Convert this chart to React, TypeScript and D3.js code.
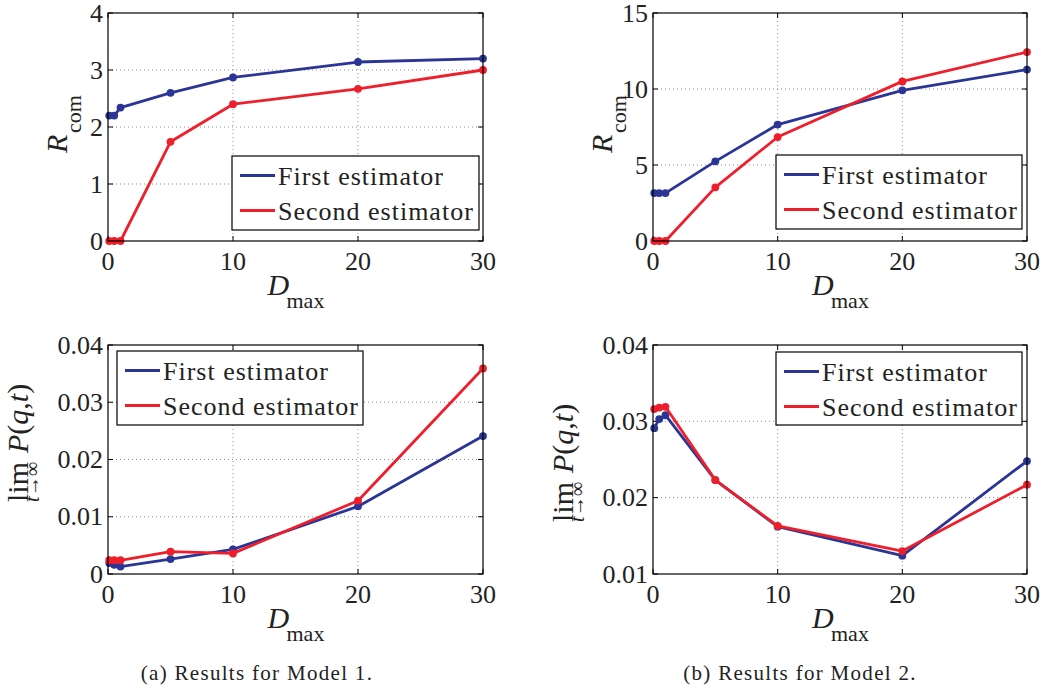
import React from "react";
import * as d3 from "d3";

const dmax = [0.1, 0.5, 1, 5, 10, 20, 30];
const xTicks = [0, 10, 20, 30];

const rcomM1First = [2.2, 2.2, 2.34, 2.6, 2.87, 3.14, 3.2];
const rcomM1Second = [0, 0, 0, 1.74, 2.4, 2.67, 3.0];
const rcomM2First = [3.15, 3.15, 3.15, 5.24, 7.66, 9.91, 11.28];
const rcomM2Second = [0, 0, 0, 3.53, 6.84, 10.5, 12.43];
const probM1First = [0.0019, 0.0016, 0.0013, 0.0026, 0.0043, 0.0118, 0.0241];
const probM1Second = [0.0024, 0.0024, 0.0024, 0.0039, 0.0036, 0.0128, 0.0359];
const probM2First = [0.0291, 0.0303, 0.0308, 0.0223, 0.0162, 0.0124, 0.0248];
const probM2Second = [0.0316, 0.0318, 0.0319, 0.0223, 0.0163, 0.013, 0.0217];

const yTicksM1R = [0, 1, 2, 3, 4];
const yTicksM2R = [0, 5, 10, 15];
const yTicksM1P = [0, 0.01, 0.02, 0.03, 0.04];
const yTicksM2P = [0.01, 0.02, 0.03, 0.04];
const yTickLabelsM1P = ["0", "0.01", "0.02", "0.03", "0.04"];
const yTickLabelsM2P = ["0.01", "0.02", "0.03", "0.04"];

const seriesNames = ["First estimator", "Second estimator"];
const captions = ["(a) Results for Model 1.", "(b) Results for Model 2."];

const BLUE = "#2b3595";
const RED = "#ee1f2b";
const F = { fontFamily: "Liberation Serif" };

type PanelProps = {
  x0: number; x1: number; y0: number; y1: number;
  yDomain: [number, number];
  yTicks: number[];
  yLabels: string[];
  first: number[];
  second: number[];
  legend: { x: number; y: number; w: number; h: number };
  ylabel: "R" | "P";
  yLabelY?: number;
};

function Panel(p: PanelProps) {
  const xs = d3.scaleLinear().domain([0, 30]).range([p.x0, p.x1]);
  const ys = d3.scaleLinear().domain(p.yDomain).range([p.y1, p.y0]);
  const line = d3
    .line<[number, number]>()
    .x((d) => xs(d[0]))
    .y((d) => ys(d[1]));
  const series = [
    { vals: p.first, color: BLUE },
    { vals: p.second, color: RED },
  ];
  const tl = 5;
  const cx = (p.x0 + p.x1) / 2;
  const cy = (p.y0 + p.y1) / 2;
  const ly0 = p.yLabelY || 0;
  return (
    <g>
      {xTicks
        .filter((t) => t > 0 && t < 30)
        .map((t) => (
          <line key={"gx" + t} x1={xs(t)} x2={xs(t)} y1={p.y0} y2={p.y1}
            stroke="#8a8a8a" strokeWidth={1} strokeDasharray="1,3" />
        ))}
      {p.yTicks
        .filter((t) => t > p.yDomain[0] && t < p.yDomain[1])
        .map((t) => (
          <line key={"gy" + t} x1={p.x0} x2={p.x1} y1={ys(t)} y2={ys(t)}
            stroke="#8a8a8a" strokeWidth={1} strokeDasharray="1,3" />
        ))}
      {xTicks.map((t) => (
        <g key={"tx" + t}>
          <line x1={xs(t)} x2={xs(t)} y1={p.y1} y2={p.y1 - tl} stroke="#000" />
          <line x1={xs(t)} x2={xs(t)} y1={p.y0} y2={p.y0 + tl} stroke="#000" />
          <text x={xs(t)} y={p.y1 + 20} textAnchor="middle" dominantBaseline="central"
            fontSize={26} style={F} fill="#222">{t}</text>
        </g>
      ))}
      {p.yTicks.map((t, i) => (
        <g key={"ty" + t}>
          <line x1={p.x0} x2={p.x0 + tl} y1={ys(t)} y2={ys(t)} stroke="#000" />
          <line x1={p.x1} x2={p.x1 - tl} y1={ys(t)} y2={ys(t)} stroke="#000" />
          <text x={p.x0 - 5} y={ys(t)} textAnchor="end" dominantBaseline="central"
            fontSize={26} style={F} fill="#222">{p.yLabels[i]}</text>
        </g>
      ))}
      {series.map((s, si) => (
        <g key={"s" + si}>
          <path d={line(dmax.map((x, i) => [x, s.vals[i]]) as [number, number][]) || ""}
            fill="none" stroke={s.color} strokeWidth={2.8} strokeLinejoin="round" />
          {dmax.map((x, i) => (
            <circle key={i} cx={xs(x)} cy={ys(s.vals[i])} r={3.9} fill={s.color} />
          ))}
        </g>
      ))}
      <rect x={p.x0} y={p.y0} width={p.x1 - p.x0} height={p.y1 - p.y0}
        fill="none" stroke="#000" strokeWidth={1.2} />
      <rect x={p.legend.x} y={p.legend.y} width={p.legend.w} height={p.legend.h}
        fill="#fff" stroke="#000" strokeWidth={1.2} />
      {seriesNames.map((n, i) => {
        const ly = p.legend.y + 19.5 + i * 35;
        return (
          <g key={n}>
            <line x1={p.legend.x + 8} x2={p.legend.x + 43} y1={ly} y2={ly}
              stroke={i === 0 ? BLUE : RED} strokeWidth={2.8} />
            <text x={p.legend.x + 46} y={ly + 9} fontSize={26} style={F}
              letterSpacing={1.0} fill="#222">{n}</text>
          </g>
        );
      })}
      <text x={cx - 28} y={p.y1 + 54} fontSize={30} fontStyle="italic" style={F} fill="#222">D</text>
      <text x={cx - 9} y={p.y1 + 67} fontSize={22} style={F} fill="#222">max</text>
      {p.ylabel === "R" ? (
        <g>
          <text transform={`translate(${p.x0 - 41},${cy + 26}) rotate(-90)`}
            fontSize={30} fontStyle="italic" style={F} fill="#222">R</text>
          <text transform={`translate(${p.x0 - 27},${cy + 6}) rotate(-90)`}
            fontSize={22} style={F} fill="#222">com</text>
        </g>
      ) : (
        <g>
          <text transform={`translate(${p.x0 - 80},${ly0}) rotate(-90)`}
            fontSize={30} style={F} fill="#222">
            <tspan>lim</tspan>
            <tspan dx={9} fontStyle="italic">P</tspan>
            <tspan>(</tspan>
            <tspan fontStyle="italic">q</tspan>
            <tspan>,</tspan>
            <tspan fontStyle="italic">t</tspan>
            <tspan>)</tspan>
          </text>
          <text transform={`translate(${p.x0 - 69},${ly0 - 20}) rotate(-90)`}
            fontSize={20} style={F} textAnchor="middle" fill="#222">
            <tspan fontStyle="italic">t</tspan>
            <tspan>→∞</tspan>
          </text>
        </g>
      )}
    </g>
  );
}

export default function App() {
  return (
    <svg width={1043} height={689} style={{ position: "absolute", left: 0, top: 0, background: "#fff" }}>
      <rect x={0} y={0} width={1043} height={689} fill="#fff" />
      <Panel x0={108} x1={483} y0={13} y1={241} yDomain={[0, 4]} yTicks={yTicksM1R}
        yLabels={yTicksM1R.map(String)} first={rcomM1First} second={rcomM1Second}
        legend={{ x: 232, y: 156, w: 247, h: 74 }} ylabel="R" />
      <Panel x0={653} x1={1027} y0={13} y1={241} yDomain={[0, 15]} yTicks={yTicksM2R}
        yLabels={yTicksM2R.map(String)} first={rcomM2First} second={rcomM2Second}
        legend={{ x: 776, y: 155, w: 246, h: 74 }} ylabel="R" />
      <Panel x0={108} x1={483} y0={345} y1={574} yDomain={[0, 0.04]} yTicks={yTicksM1P}
        yLabels={yTickLabelsM1P} first={probM1First} second={probM1Second}
        legend={{ x: 117, y: 351, w: 246, h: 74 }} ylabel="P" yLabelY={502} />
      <Panel x0={653} x1={1027} y0={345} y1={574} yDomain={[0.01, 0.04]} yTicks={yTicksM2P}
        yLabels={yTickLabelsM2P} first={probM2First} second={probM2Second}
        legend={{ x: 776, y: 352, w: 246, h: 73 }} ylabel="P" yLabelY={522} />
      <text x={257} y={680} textAnchor="middle" fontSize={21} letterSpacing={1.3} style={F} fill="#222">{captions[0]}</text>
      <text x={800} y={680} textAnchor="middle" fontSize={21} letterSpacing={1.3} style={F} fill="#222">{captions[1]}</text>
    </svg>
  );
}
